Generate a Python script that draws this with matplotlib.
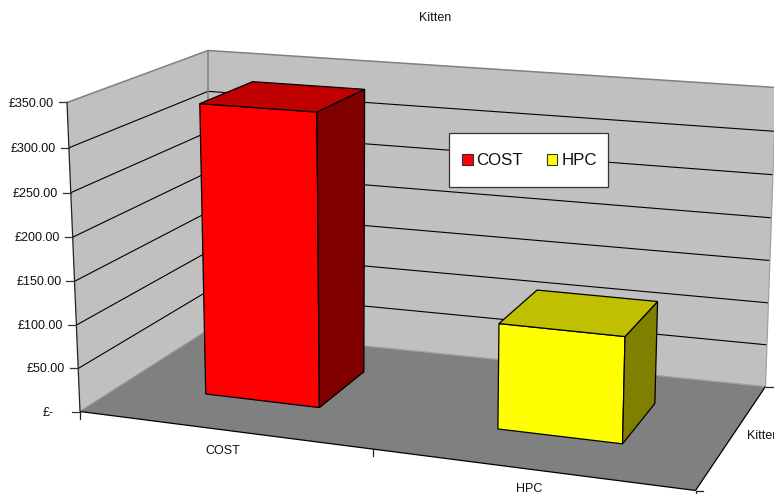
import numpy as np
import matplotlib
matplotlib.use('Agg')
import matplotlib.pyplot as plt
from matplotlib.patches import Polygon, Rectangle, Patch

plt.rcParams['font.family'] = ['Liberation Sans', 'DejaVu Sans']

categories = ['COST', 'HPC']
values = [335.8, 118.8]
colors = ['#ff0000', '#ffff00']
top_colors = ['#c00000', '#c0c000']
side_colors = ['#800000', '#808000']
series_name = 'Kitten'
value_ticks = [0, 50, 100, 150, 200, 250, 300, 350]
tick_labels = ['£-', '£50.00', '£100.00', '£150.00', '£200.00', '£250.00', '£300.00', '£350.00']

ZMAX = 350.0
BAR_W = 0.2
D0, D1 = 0.31, 0.715

# camera fitted to the box corners, (x, depth, value) -> pixels
cube = [(0,0,0),(1,0,0),(0,1,0),(1,1,0),(0,0,1),(0,1,1),(1,1,1)]
pix = [(80,411.5),(695.5,490.5),(208,330),(765.5,386.5),(67,102.5),(208,50.5),(776,87.5)]
rows = []
for (X,Y,Z),(u,v) in zip(cube,pix):
    rows.append([X,Y,Z,1,0,0,0,0,-u*X,-u*Y,-u*Z,-u])
    rows.append([0,0,0,0,X,Y,Z,1,-v*X,-v*Y,-v*Z,-v])
P = np.linalg.svd(np.array(rows))[2][-1].reshape(3,4)


def camera(x, d, z):
    p = P @ np.array([x, d, z, 1.0])
    return np.array([p[0]/p[2], p[1]/p[2]])


# what the camera misses at each corner, spread trilinearly
residuals = [(c, np.array(q) - camera(*c)) for c, q in zip(cube, pix)]


def proj(x, d, val):
    z = val/ZMAX
    out = camera(x, d, z)
    for (cx, cd, cz), r in residuals:
        w = (x if cx else 1-x) * (d if cd else 1-d) * (z if cz else 1-z)
        out = out + w*r
    return out[0], out[1]


fig = plt.figure(figsize=(7.74,4.94), dpi=100)
ax = fig.add_axes([0,0,1,1])
ax.set_xlim(0,774)
ax.set_ylim(494,0)
ax.axis('off')


def face(corners, color, edge='none', lw=0, z=1):
    ax.add_patch(Polygon([proj(*c) for c in corners], closed=True, fc=color, ec=edge, lw=lw, zorder=z))


def seg(a, b, color='k', lw=0.8, z=2):
    pa, pb = proj(*a), proj(*b)
    ax.plot([pa[0],pb[0]], [pa[1],pb[1]], color=color, lw=lw, zorder=z, solid_capstyle='butt')


# walls and floor
face([(0,0,0),(1,0,0),(1,1,0),(0,1,0)], '#808080')
face([(0,0,0),(0,1,0),(0,1,ZMAX),(0,0,ZMAX)], '#c0c0c0')
face([(0,1,0),(1,1,0),(1,1,ZMAX),(0,1,ZMAX)], '#c0c0c0')

for t in value_ticks[1:-1]:
    seg((0,0,t), (0,1,t))
    seg((0,1,t), (1,1,t))
seg((0,0,ZMAX), (0,1,ZMAX), '#808080', 1.1)
seg((0,1,ZMAX), (1,1,ZMAX), '#808080', 1.1)
seg((0,1,0), (0,1,ZMAX), '#808080', 1.1)
seg((1,1,0), (1,1,ZMAX), '#a0a0a0', 0.9)
seg((0,0,0), (0,1,0), '#909090', 0.9)
seg((0,1,0), (1,1,0), '#a0a0a0', 0.9)

# box edges and ticks
seg((0,0,0), (0,0,ZMAX), '#222222', 0.9, 3)
seg((0,0,0), (1,0,0), 'k', 0.9, 3)
seg((1,0,0), (1,1,0), 'k', 0.9, 3)

for t, lab in zip(value_ticks, tick_labels):
    x, y = proj(0, 0, t)
    ax.plot([x-8,x], [y,y], color='#333333', lw=0.9, zorder=3)
    off = 26 if t == 0 else 13
    ax.text(x-off, y+1, lab, ha='right', va='center', fontsize=9, color='#111111')

for xt in [0, 0.5, 1]:
    x, y = proj(xt, 0, 0)
    ax.plot([x,x], [y,y+7], color='#222222', lw=0.9, zorder=3)
for dt in [0, 1]:
    x, y = proj(1, dt, 0)
    ax.plot([x,x+7], [y,y], color='#222222', lw=0.9, zorder=3)

# bars
for i, (cat, val) in enumerate(zip(categories, values)):
    c = (i + 0.5)/len(categories)
    x0, x1 = c - BAR_W/2, c + BAR_W/2
    face([(x0,D0,0),(x1,D0,0),(x1,D0,val),(x0,D0,val)], colors[i], 'k', 0.9, 5)
    face([(x1,D0,0),(x1,D1,0),(x1,D1,val),(x1,D0,val)], side_colors[i], 'k', 0.9, 5)
    face([(x0,D0,val),(x1,D0,val),(x1,D1,val),(x0,D1,val)], top_colors[i], 'k', 0.9, 5)

ax.text(222.5, 451, categories[0], ha='center', va='center', fontsize=9, color='#111111')
ax.text(529.5, 489, categories[1], ha='center', va='center', fontsize=9, color='#111111')
ax.text(747, 436, series_name, ha='left', va='center', fontsize=9, color='#111111', clip_on=True)
ax.text(435, 18, series_name, ha='center', va='center', fontsize=9, color='#111111')

# legend
ax.add_patch(Rectangle((449,132.5), 159, 54.5, fc='white', ec='#333333', lw=0.9, zorder=6))
handles = [Patch(fc=colors[i], ec='#333333', lw=0.8, label=categories[i]) for i in range(2)]
leg = ax.legend(handles=handles, ncol=2, frameon=False, loc='center left',
                bbox_to_anchor=(462,160.5), bbox_transform=ax.transData,
                borderpad=0, borderaxespad=0, fontsize=12.2, handlelength=0.62,
                handleheight=0.62, handletextpad=0.24, columnspacing=1.4,
                labelcolor='#111111')
leg.set_zorder(7)

fig.savefig('out.png', dpi=100)
